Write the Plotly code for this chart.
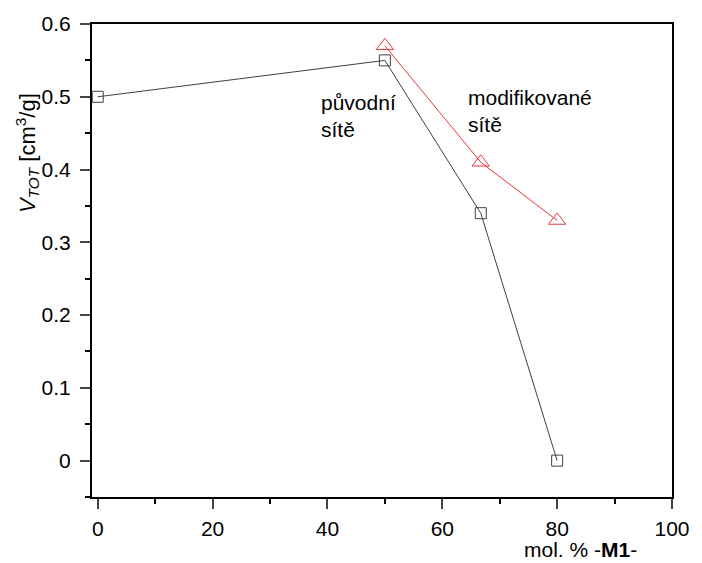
import plotly.graph_objects as go

x_orig = [0, 50, 66.7, 80]
y_orig = [0.50, 0.55, 0.34, 0.0]
x_mod = [50, 66.7, 80]
y_mod = [0.57, 0.41, 0.33]

x_ticks = [0, 20, 40, 60, 80, 100]
y_ticks = [0, 0.1, 0.2, 0.3, 0.4, 0.5, 0.6]
y_tick_labels = ["0", "0.1", "0.2", "0.3", "0.4", "0.5", "0.6"]

font = "Liberation Sans, Arial, sans-serif"
FS = 21

fig = go.Figure()
fig.add_trace(go.Scatter(
    x=x_orig, y=y_orig, mode="lines+markers",
    line=dict(color="#404040", width=1),
    marker=dict(symbol="square-open", size=11, color="#404040", line=dict(width=1)),
    showlegend=False, cliponaxis=False))
fig.add_trace(go.Scatter(
    x=x_mod, y=y_mod, mode="lines+markers",
    line=dict(color="#e8383d", width=1),
    marker=dict(symbol="triangle-up-open", size=15, color="#e8383d", line=dict(width=1)),
    showlegend=False, cliponaxis=False))

fig.update_layout(
    width=702, height=563,
    margin=dict(l=92, r=19, t=23, b=66),
    plot_bgcolor="white", paper_bgcolor="white",
    font=dict(family=font, size=FS, color="black"),
    xaxis=dict(range=[-1, 100], tickvals=x_ticks, ticks="outside", ticklen=10, tickwidth=2,
               showline=True, linewidth=2, linecolor="black", mirror=True,
               showgrid=False, zeroline=False, ticklabelstandoff=2,
               minor=dict(dtick=10, tick0=0, ticks="outside", ticklen=5, tickwidth=2, tickcolor="black"),
               tickfont=dict(size=FS)),
    yaxis=dict(range=[-0.05, 0.6], tickvals=y_ticks, ticktext=y_tick_labels, ticks="outside", ticklen=10, tickwidth=2,
               showline=True, linewidth=2, linecolor="black", mirror=True,
               showgrid=False, zeroline=False, ticklabelstandoff=5,
               minor=dict(dtick=0.05, tick0=0.05, ticks="outside", ticklen=5, tickwidth=2, tickcolor="black"),
               tickfont=dict(size=FS)),
)

PW = 702 - 92 - 19
PH = 563 - 23 - 66
# y-axis title (placed near the top, as in the reference)
fig.add_annotation(x=(26 - 92) / PW, y=(497 - 152) / PH, xref="paper", yref="paper",
                   xanchor="center", yanchor="middle", textangle=-90, showarrow=False,
                   text="<i>V</i><sub><i>TOT</i></sub> [cm<sup>3</sup>/g]", font=dict(size=22))
# x-axis title (bottom right)
fig.add_annotation(x=(590 - 92) / PW, y=-(550 - 497) / PH, xref="paper", yref="paper",
                   xanchor="center", yanchor="middle", showarrow=False,
                   text="mol. % -<b>M1</b>-", font=dict(size=FS))
fig.add_annotation(x=38.5, y=0.51, xref="x", yref="y", xanchor="left", yanchor="top",
                   showarrow=False, align="left", text="původní<br>sítě", font=dict(size=FS))
fig.add_annotation(x=64.2, y=0.517, xref="x", yref="y", xanchor="left", yanchor="top",
                   showarrow=False, align="left", text="modifikované<br>sítě", font=dict(size=FS))

fig.write_html("out.html")
